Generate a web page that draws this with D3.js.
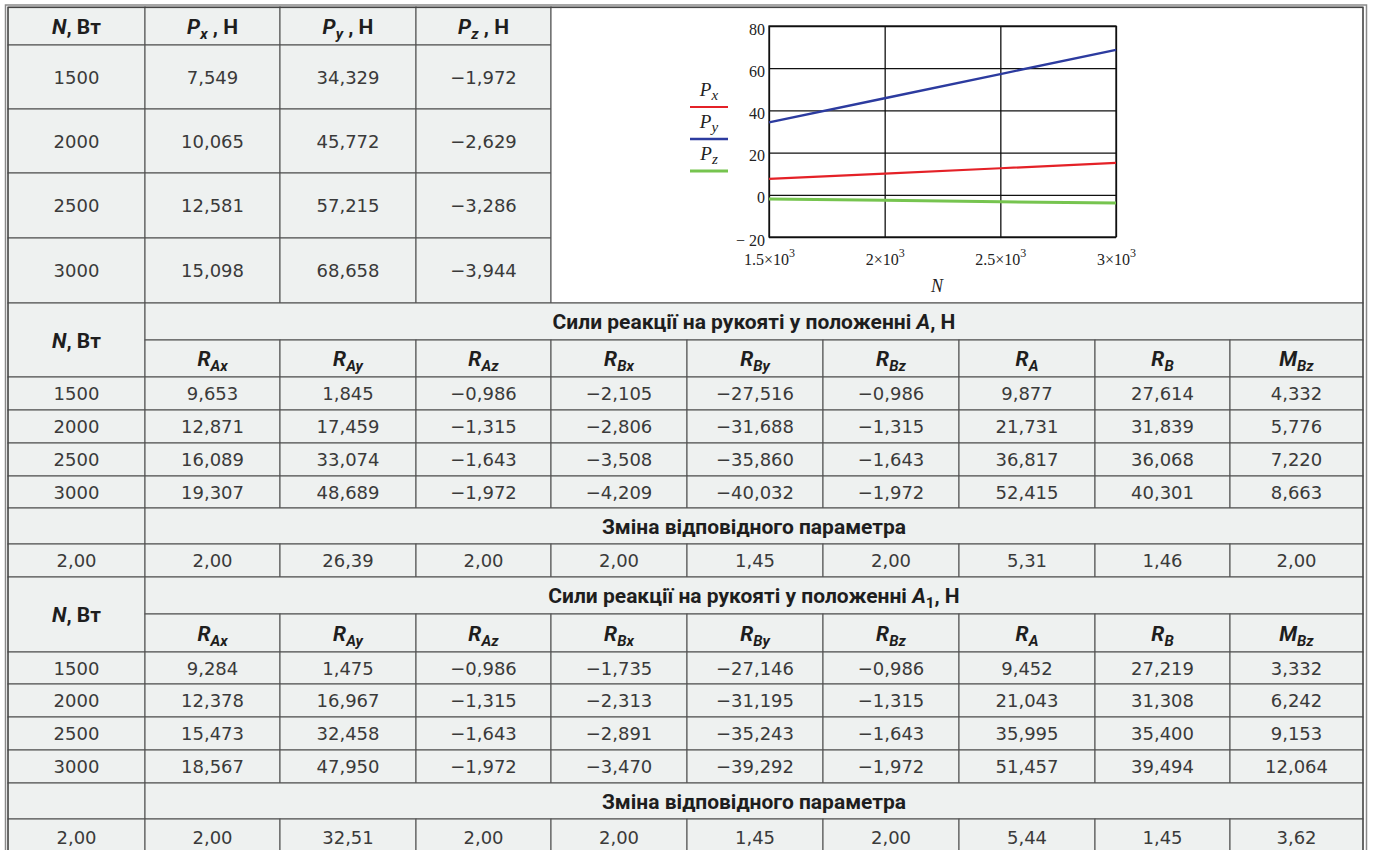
<!DOCTYPE html>
<html>
<head>
<meta charset="utf-8">
<script src="https://cdn.jsdelivr.net/npm/d3@7"></script>
<style>
  html, body { margin: 0; padding: 0; background: #ffffff; }
  svg { display: block; }
</style>
</head>
<body>
<svg id="sheet" width="1375" height="850"></svg>
<script>
// ---- data ----------------------------------------------------------
const powerN = [1500, 2000, 2500, 3000];           // N, W
const forcePx = [7.549, 10.065, 12.581, 15.098];     // Px, N
const forcePy = [34.329, 45.772, 57.215, 68.658];    // Py, N
const forcePz = [-1.972, -2.629, -3.286, -3.944];    // Pz, N

// reaction column headers: [main letter, subscript]
const reactionHeaders = [["R","Ax"],["R","Ay"],["R","Az"],["R","Bx"],["R","By"],["R","Bz"],["R","A"],["R","B"],["M","Bz"]];

// reactions, handle in position A
const reactA = [
  [9.653, 1.845, -0.986, -2.105, -27.516, -0.986, 9.877, 27.614, 4.332],
  [12.871, 17.459, -1.315, -2.806, -31.688, -1.315, 21.731, 31.839, 5.776],
  [16.089, 33.074, -1.643, -3.508, -35.860, -1.643, 36.817, 36.068, 7.220],
  [19.307, 48.689, -1.972, -4.209, -40.032, -1.972, 52.415, 40.301, 8.663]
];
const changeA = [2.00, 2.00, 26.39, 2.00, 2.00, 1.45, 2.00, 5.31, 1.46, 2.00];

// reactions, handle in position A1
const reactA1 = [
  [9.284, 1.475, -0.986, -1.735, -27.146, -0.986, 9.452, 27.219, 3.332],
  [12.378, 16.967, -1.315, -2.313, -31.195, -1.315, 21.043, 31.308, 6.242],
  [15.473, 32.458, -1.643, -2.891, -35.243, -1.643, 35.995, 35.400, 9.153],
  [18.567, 47.950, -1.972, -3.470, -39.292, -1.972, 51.457, 39.494, 12.064]
];
const changeA1 = [2.00, 2.00, 32.51, 2.00, 2.00, 1.45, 2.00, 5.44, 1.45, 3.62];

const chartTicksY = [-20, 0, 20, 40, 60, 80];

// ---- formatting ----------------------------------------------------
const loc = d3.formatLocale({decimal: ",", thousands: "", grouping: [3], currency: ["", ""], minus: "\u2212"});
const f3 = loc.format(".3f"), f2 = loc.format(".2f"), f0 = loc.format("d");

// ---- layout --------------------------------------------------------
const colX = [8, 145, 280, 416, 551, 687, 823, 959, 1095, 1230, 1363];
const sec1 = [7, 45, 109, 173, 238, 303];
const sec2 = [303, 340, 377, 410, 443, 476, 508, 544, 577];
const sec3 = [577, 614, 652, 684, 717, 750, 783, 819, 856];

const CELL_BG = "#eef1f0";
const NUM_FONT = "'DejaVu Sans', sans-serif";
const HEAD_FONT = "Roboto, 'Noto Sans', sans-serif";
const SERIF = "'Liberation Serif', 'DejaVu Serif', serif";

const svg = d3.select("#sheet");

// outer double frame
svg.append("rect").attr("x", 5.5).attr("y", 5).attr("width", 1361).attr("height", 900)
  .attr("fill", "none").attr("stroke", "#8a8a8a").attr("stroke-width", 1.5);

const gCells = svg.append("g");
const gText = svg.append("g");

function cell(c0, c1, y0, y1, fill) {
  gCells.append("rect")
    .attr("x", colX[c0]).attr("y", y0)
    .attr("width", colX[c1] - colX[c0]).attr("height", y1 - y0)
    .attr("fill", fill || CELL_BG)
    .attr("stroke", "#555").attr("stroke-width", 1.1);
  return {cx: (colX[c0] + colX[c1]) / 2, cy: (y0 + y1) / 2};
}

// rich text: segments {t, it, b, sub, sup, fs}
function rich(parent, x, y, segs, base) {
  const t = parent.append("text").attr("x", x).attr("y", y)
    .attr("text-anchor", "middle")
    .attr("font-family", base.family).attr("font-size", base.fs)
    .attr("fill", base.fill || "#222");
  let shift = 0;
  segs.forEach(s => {
    const target = s.sub ? (s.subOff || base.fs * 0.3) : s.sup ? -(base.fs * 0.45) : 0;
    const ts = t.append("tspan").text(s.t).attr("dy", target - shift);
    if (s.it) ts.attr("font-style", "italic");
    if (s.b) ts.attr("font-weight", "bold");
    if (s.fs) ts.attr("font-size", s.fs);
    shift = target;
  });
  return t;
}

function numText(c, str) {
  gText.append("text").attr("x", c.cx).attr("y", c.cy + 6.5)
    .attr("text-anchor", "middle")
    .attr("font-family", NUM_FONT).attr("font-size", 18)
    .attr("fill", "#3a3a3a").text(str);
}

const headBase = {family: HEAD_FONT, fs: 21, fill: "#1e1e1e"};
function nHeader(c) {
  rich(gText, c.cx, c.cy + 7.5, [{t: "N", it: true, b: true}, {t: ", Вт", b: true}], headBase);
}

// ---- section 1: forces + chart -------------------------------------
nHeader(cell(0, 1, sec1[0], sec1[1]));
["x", "y", "z"].forEach((sub, i) => {
  const c = cell(i + 1, i + 2, sec1[0], sec1[1]);
  rich(gText, c.cx, c.cy + 7.5, [
    {t: "P", it: true, b: true},
    {t: sub, it: true, b: true, sub: true, fs: 15, subOff: 5},
    {t: " , Н", b: true}
  ], headBase);
});
const forceCols = [forcePx, forcePy, forcePz];
powerN.forEach((n, r) => {
  numText(cell(0, 1, sec1[r + 1], sec1[r + 2]), f0(n));
  forceCols.forEach((col, i) => numText(cell(i + 1, i + 2, sec1[r + 1], sec1[r + 2]), f3(col[r])));
});
cell(4, 10, sec1[0], sec1[5], "#ffffff");

// ---- reaction sections ---------------------------------------------
function reactionSection(ys, data, change, titleSegs) {
  nHeader(cell(0, 1, ys[0], ys[2]));
  const tc = cell(1, 10, ys[0], ys[1]);
  rich(gText, tc.cx, tc.cy + 7.5, titleSegs, headBase);
  reactionHeaders.forEach((h, i) => {
    const c = cell(i + 1, i + 2, ys[1], ys[2]);
    rich(gText, c.cx, c.cy + 7.5, [
      {t: h[0], it: true, b: true},
      {t: h[1], it: true, b: true, sub: true, fs: 15, subOff: 5}
    ], headBase);
  });
  powerN.forEach((n, r) => {
    numText(cell(0, 1, ys[r + 2], ys[r + 3]), f0(n));
    data[r].forEach((v, i) => numText(cell(i + 1, i + 2, ys[r + 2], ys[r + 3]), f3(v)));
  });
  cell(0, 1, ys[6], ys[7]);
  const zc = cell(1, 10, ys[6], ys[7]);
  rich(gText, zc.cx, zc.cy + 7.5, [{t: "Зміна відповідного параметра", b: true}], headBase);
  change.forEach((v, i) => numText(cell(i, i + 1, ys[7], ys[8]), f2(v)));
}

reactionSection(sec2, reactA, changeA, [
  {t: "Сили реакції на рукояті у положенні ", b: true},
  {t: "A", it: true, b: true},
  {t: ", Н", b: true}
]);
reactionSection(sec3, reactA1, changeA1, [
  {t: "Сили реакції на рукояті у положенні ", b: true},
  {t: "A", it: true, b: true},
  {t: "1", b: true, sub: true, fs: 15, subOff: 5},
  {t: ", Н", b: true}
]);

// inner frame of the table
svg.append("rect").attr("x", 8).attr("y", 7.5).attr("width", 1355).attr("height", 900)
  .attr("fill", "none").attr("stroke", "#444").attr("stroke-width", 1.2);

// ---- chart: forces vs power ----------------------------------------
const plot = {left: 769, right: 1116, top: 26, bottom: 237};
const xS = d3.scaleLinear().domain([1500, 3000]).range([plot.left, plot.right]);
const yS = d3.scaleLinear().domain([-20, 80]).range([plot.bottom, plot.top]);
const gChart = svg.append("g");

const xAxis = d3.axisBottom(xS).tickValues(powerN)
  .tickSize(-(plot.bottom - plot.top)).tickPadding(17)
  .tickFormat(d => "");
const gx = gChart.append("g").attr("transform", `translate(0,${plot.bottom})`).call(xAxis);
gx.select(".domain").remove();
gx.selectAll(".tick line").attr("stroke", "#111").attr("stroke-width", 1.3);
gx.selectAll(".tick text").each(function(d) {
  const t = d3.select(this).text(null)
    .attr("font-family", SERIF).attr("font-size", 16).attr("fill", "#222");
  t.append("tspan").text(d3.format("~g")(d / 1000) + "×10");
  t.append("tspan").text("3").attr("font-size", 12).attr("dy", -8);
});

const yAxis = d3.axisLeft(yS).tickValues(chartTicksY)
  .tickSize(-(plot.right - plot.left)).tickPadding(4)
  .tickFormat(d => d < 0 ? "\u2212 " + Math.abs(d) : String(d));
const gy = gChart.append("g").attr("transform", `translate(${plot.left},0)`).call(yAxis);
gy.select(".domain").remove();
gy.selectAll(".tick line").attr("stroke", "#111").attr("stroke-width", 1.3);
gy.selectAll(".tick text").attr("font-family", SERIF).attr("font-size", 16)
  .attr("fill", "#222").attr("dy", "0.5em");

gChart.append("rect").attr("x", plot.left).attr("y", plot.top)
  .attr("width", plot.right - plot.left).attr("height", plot.bottom - plot.top)
  .attr("fill", "none").attr("stroke", "#111").attr("stroke-width", 1.3);

const series = [
  {sub: "x", color: "#e42127", width: 2.2, values: forcePx},
  {sub: "y", color: "#2c3b9f", width: 2.4, values: forcePy},
  {sub: "z", color: "#76c44f", width: 3, values: forcePz}
];
const line = d3.line().x(d => xS(d[0])).y(d => yS(d[1]));
series.forEach(s => {
  gChart.append("path").datum(powerN.map((n, i) => [n, s.values[i]]))
    .attr("d", line).attr("fill", "none")
    .attr("stroke", s.color).attr("stroke-width", s.width);
});

// legend
series.forEach((s, i) => {
  const ly = 107 + i * 32;
  gChart.append("line").attr("x1", 690).attr("x2", 728).attr("y1", ly).attr("y2", ly)
    .attr("stroke", s.color).attr("stroke-width", s.width);
  rich(gChart, 709, ly - 11, [
    {t: "P", it: true},
    {t: s.sub, it: true, sub: true, fs: 15, subOff: 4}
  ], {family: SERIF, fs: 19, fill: "#222"});
});

gChart.append("text").attr("x", 937).attr("y", 292).attr("text-anchor", "middle")
  .attr("font-family", SERIF).attr("font-style", "italic").attr("font-size", 18)
  .attr("fill", "#222").text("N");
</script>
</body>
</html>
